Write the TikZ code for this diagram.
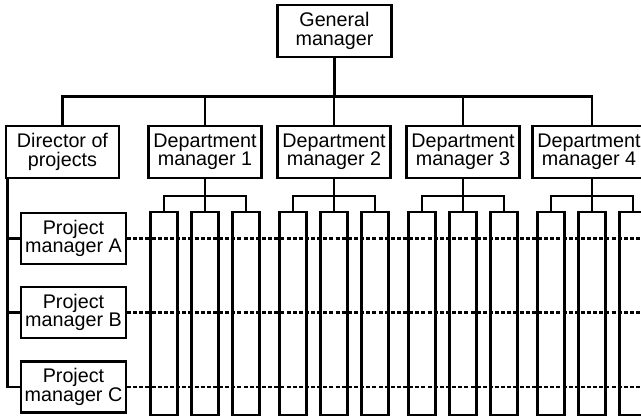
\documentclass[tikz,border=0pt]{standalone}
\usepackage{fontspec}
\setmainfont{Liberation Sans}
\begin{document}
\begin{tikzpicture}[x=0.75pt,y=-0.75pt,
  line width=1.6pt,
  box/.style={draw, fill=white, align=center, inner sep=0pt,
    minimum width=84.75pt, minimum height=39pt,
    font=\fontsize{14.8pt}{13.8pt}\selectfont},
  pmbox/.style={box, minimum width=78.75pt, minimum height=38.25pt},
  column/.style={draw, inner sep=0pt, minimum width=20.25pt, minimum height=152.25pt},
  matrixlink/.style={line width=1.6pt, dash pattern=on 3pt off 1.6pt}
]
\useasboundingbox (0,0) rectangle (641,416);

% top level
\node[box, minimum width=85.5pt] (gm) at (334.5,31) {General\\manager};

% second level
\node[box] (dir) at (62.5,152) {Director of\\projects};
\node[box] (d1) at (205,152) {Department\\manager 1};
\node[box] (d2) at (334,152) {Department\\manager 2};
\node[box] (d3) at (463,152) {Department\\manager 3};
\node[box] (d4) at (589,152) {Department\\manager 4};
% the last box runs past the right edge; its links sit off-centre
\coordinate (d4top) at (592,126);
\coordinate (d4foot) at (592,178);

% project managers
\node[pmbox] (pa) at (73.5,238.5) {Project\\manager A};
\node[pmbox] (pb) at (73.5,312.5) {Project\\manager B};
\node[pmbox] (pc) at (73.5,387) {Project\\manager C};

% bus from the general manager
\coordinate (bus) at (0,96.5);
\draw (gm.south) -- (gm.south |- bus);
\draw (dir.north) |- (bus -| d4top) -- (d4top);
\foreach \d in {d1,d2,d3} \draw (\d.north) -- (\d.north |- bus);

% functional staff columns under each department
\foreach \d/\foot/\cx in {d1/d1.south/205,d2/d2.south/334,d3/d3.south/463,d4/d4foot/592} {
  \node[column] (\d a) at (\cx-41,313.5) {};
  \node[column] (\d b) at (\cx,313.5) {};
  \node[column] (\d c) at (\cx+41,313.5) {};
  \draw (\foot) -- (\d b.north);
  \draw (\d a.north) -- ++(0,-15) -| (\d c.north);
}

% director of projects to project managers
\coordinate (spine) at (7.5,178);
\draw (spine) |- (pc.west);
\draw (spine |- pa.west) -- (pa.west);
\draw (spine |- pb.west) -- (pb.west);

% project lines across the departments
\coordinate (rim) at (645,0);
\foreach \p in {pa,pb,pc} \draw[matrixlink] (\p.east) -- (\p.east -| rim);
\end{tikzpicture}
\end{document}
